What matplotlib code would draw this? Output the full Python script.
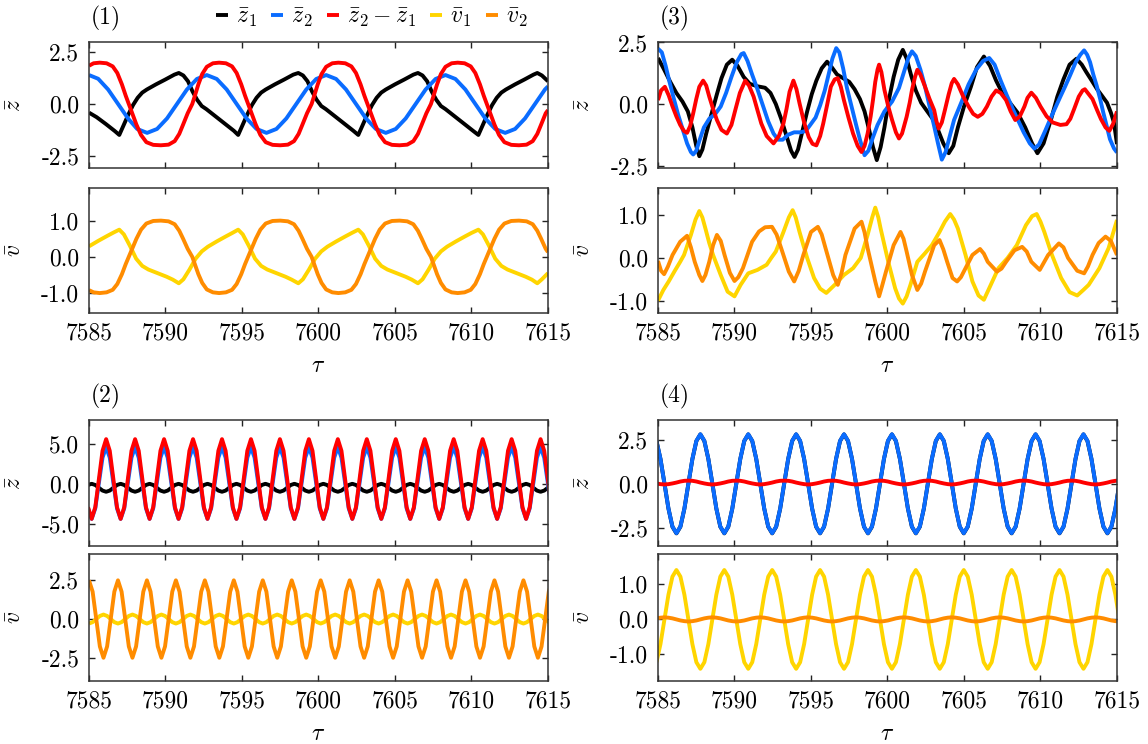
import numpy as np
import matplotlib
matplotlib.use("Agg")
import matplotlib.pyplot as plt
from matplotlib.ticker import FormatStrFormatter

plt.rcParams["font.family"] = "serif"
plt.rcParams["font.serif"] = ["cmr10"]
plt.rcParams["mathtext.fontset"] = "cm"
plt.rcParams["axes.unicode_minus"] = False
plt.rcParams["font.size"] = 17

# colours of the five traces
c_z1, c_z2, c_dz = "#000000", "#0a6cff", "#ff0000"
c_v1, c_v2 = "#ffd500", "#ff8c00"

# ---------------- panel (1) ----------------
p1_z1 = [(7585.0, -0.42), (7585.5, -0.64), (7586.1, -0.97), (7586.7, -1.32), (7586.98, -1.5),
         (7587.28, -1.0), (7587.58, -0.5), (7587.88, -0.05), (7588.18, 0.3), (7588.48, 0.55),
         (7588.78, 0.7), (7589.38, 0.95), (7589.98, 1.18), (7590.58, 1.42), (7590.87, 1.5),
         (7591.17, 1.38), (7591.47, 1.1), (7591.77, 0.6), (7592.07, 0.2), (7592.37, -0.1),
         (7592.67, -0.25), (7593.27, -0.6), (7593.87, -0.95), (7594.47, -1.3), (7594.75, -1.5),
         (7595.05, -1.0), (7595.35, -0.5), (7595.65, -0.05), (7595.95, 0.3), (7596.25, 0.55),
         (7596.55, 0.7), (7597.15, 0.95), (7597.75, 1.18), (7598.35, 1.42), (7598.68, 1.5),
         (7598.98, 1.38), (7599.28, 1.1), (7599.58, 0.6), (7599.88, 0.2), (7600.18, -0.1),
         (7600.48, -0.25), (7601.08, -0.6), (7601.68, -0.95), (7602.28, -1.3), (7602.6, -1.5),
         (7602.9, -1.0), (7603.2, -0.5), (7603.5, -0.05), (7603.8, 0.3), (7604.1, 0.55),
         (7604.4, 0.7), (7605.0, 0.95), (7605.6, 1.18), (7606.2, 1.42), (7606.5, 1.5),
         (7606.8, 1.38), (7607.1, 1.1), (7607.4, 0.6), (7607.7, 0.2), (7608.0, -0.1),
         (7608.3, -0.25), (7608.9, -0.6), (7609.5, -0.95), (7610.1, -1.3), (7610.45, -1.5),
         (7610.75, -1.0), (7611.05, -0.5), (7611.35, -0.05), (7611.65, 0.3), (7611.95, 0.55),
         (7612.25, 0.7), (7612.85, 0.95), (7613.45, 1.18), (7614.05, 1.42), (7614.3, 1.5),
         (7614.6, 1.38), (7615.0, 1.1)]

p1_z2 = [(7585.0, 1.4), (7585.6, 1.22), (7586.25, 0.7), (7586.9, 0.0), (7587.55, -0.7),
         (7588.15, -1.21), (7588.8, -1.4), (7589.45, -1.21), (7590.1, -0.7), (7590.75, 0.0),
         (7591.4, 0.7), (7592.05, 1.21), (7592.7, 1.4), (7593.35, 1.21), (7594.0, 0.7),
         (7594.65, 0.0), (7595.3, -0.7), (7595.95, -1.21), (7596.6, -1.4), (7597.25, -1.21),
         (7597.9, -0.7), (7598.55, 0.0), (7599.2, 0.7), (7599.85, 1.21), (7600.5, 1.4),
         (7601.15, 1.21), (7601.8, 0.7), (7602.45, 0.0), (7603.1, -0.7), (7603.75, -1.21),
         (7604.4, -1.4), (7605.05, -1.21), (7605.7, -0.7), (7606.35, 0.0), (7607.0, 0.7),
         (7607.65, 1.21), (7608.3, 1.4), (7608.95, 1.21), (7609.6, 0.7), (7610.25, 0.0),
         (7610.9, -0.7), (7611.55, -1.21), (7612.2, -1.4), (7612.85, -1.21), (7613.5, -0.7),
         (7614.15, 0.0), (7614.8, 0.7), (7615.0, 0.85)]

p1_dz = [(7585.0, 1.85), (7585.3, 1.97), (7585.7, 2.0), (7586.15, 1.97), (7586.55, 1.82),
         (7586.85, 1.5), (7587.15, 0.95), (7587.4, 0.4), (7587.6, 0.0), (7587.8, -0.4),
         (7588.1, -1.0), (7588.4, -1.5), (7588.75, -1.85), (7589.2, -1.98), (7589.7, -2.0),
         (7590.2, -1.97), (7590.6, -1.8), (7590.9, -1.45), (7591.15, -1.0), (7591.45, -0.45),
         (7591.75, 0.0), (7591.9, 0.35), (7592.15, 0.95), (7592.4, 1.45), (7592.7, 1.8),
         (7593.1, 1.97), (7593.5, 2.0), (7593.95, 1.97), (7594.35, 1.82), (7594.65, 1.5),
         (7594.95, 0.95), (7595.2, 0.4), (7595.4, 0.0), (7595.6, -0.4), (7595.9, -1.0),
         (7596.2, -1.5), (7596.55, -1.85), (7597.0, -1.98), (7597.5, -2.0), (7598.0, -1.97),
         (7598.4, -1.8), (7598.7, -1.45), (7598.95, -1.0), (7599.25, -0.45), (7599.55, 0.0),
         (7599.7, 0.35), (7599.95, 0.95), (7600.2, 1.45), (7600.5, 1.8), (7600.9, 1.97),
         (7601.3, 2.0), (7601.75, 1.97), (7602.15, 1.82), (7602.45, 1.5), (7602.75, 0.95),
         (7603.0, 0.4), (7603.2, 0.0), (7603.4, -0.4), (7603.7, -1.0), (7604.0, -1.5),
         (7604.35, -1.85), (7604.8, -1.98), (7605.3, -2.0), (7605.8, -1.97), (7606.2, -1.8),
         (7606.5, -1.45), (7606.75, -1.0), (7607.05, -0.45), (7607.35, 0.0), (7607.5, 0.35),
         (7607.75, 0.95), (7608.0, 1.45), (7608.3, 1.8), (7608.7, 1.97), (7609.1, 2.0),
         (7609.55, 1.97), (7609.95, 1.82), (7610.25, 1.5), (7610.55, 0.95), (7610.8, 0.4),
         (7611.0, 0.0), (7611.2, -0.4), (7611.5, -1.0), (7611.8, -1.5), (7612.15, -1.85),
         (7612.6, -1.98), (7613.1, -2.0), (7613.6, -1.97), (7614.0, -1.8), (7614.3, -1.45),
         (7614.55, -1.0), (7614.85, -0.45), (7615.0, -0.3)]

p1_v1 = [(7585.0, 0.29), (7585.6, 0.44), (7586.2, 0.58), (7586.6, 0.67), (7586.98, 0.75),
         (7587.28, 0.62), (7587.68, 0.3), (7588.08, -0.05), (7588.48, -0.25), (7588.88, -0.35),
         (7589.48, -0.45), (7590.08, -0.55), (7590.48, -0.63), (7590.87, -0.73),
         (7591.17, -0.62), (7591.57, -0.35), (7591.97, -0.05), (7592.37, 0.15), (7592.77, 0.28),
         (7593.37, 0.43), (7593.97, 0.57), (7594.37, 0.66), (7594.75, 0.75),
         (7595.05, 0.62), (7595.45, 0.3), (7595.85, -0.05), (7596.25, -0.25), (7596.65, -0.35),
         (7597.25, -0.45), (7597.85, -0.55), (7598.25, -0.63), (7598.68, -0.73),
         (7598.98, -0.62), (7599.38, -0.35), (7599.78, -0.05), (7600.18, 0.15), (7600.58, 0.28),
         (7601.18, 0.43), (7601.78, 0.57), (7602.18, 0.66), (7602.6, 0.75),
         (7602.9, 0.62), (7603.3, 0.3), (7603.7, -0.05), (7604.1, -0.25), (7604.5, -0.35),
         (7605.1, -0.45), (7605.7, -0.55), (7606.1, -0.63), (7606.5, -0.73),
         (7606.8, -0.62), (7607.2, -0.35), (7607.6, -0.05), (7608.0, 0.15), (7608.4, 0.28),
         (7609.0, 0.43), (7609.6, 0.57), (7610.0, 0.66), (7610.45, 0.75),
         (7610.75, 0.62), (7611.15, 0.3), (7611.55, -0.05), (7611.95, -0.25), (7612.35, -0.35),
         (7612.95, -0.45), (7613.55, -0.55), (7613.95, -0.63), (7614.3, -0.73),
         (7614.6, -0.62), (7615.0, -0.45)]

p1_v2 = [(7585.0, -0.92), (7585.3, -0.98), (7585.7, -1.0), (7586.15, -0.98), (7586.55, -0.91),
         (7586.85, -0.75), (7587.15, -0.48), (7587.4, -0.2), (7587.6, 0.0), (7587.8, 0.2),
         (7588.1, 0.5), (7588.4, 0.75), (7588.75, 0.92), (7589.2, 0.99), (7589.7, 1.0),
         (7590.2, 0.98), (7590.6, 0.9), (7590.9, 0.72), (7591.15, 0.5), (7591.45, 0.22),
         (7591.75, 0.0), (7591.9, -0.18), (7592.15, -0.48), (7592.4, -0.72), (7592.7, -0.9),
         (7593.1, -0.98), (7593.5, -1.0), (7593.95, -0.98), (7594.35, -0.91), (7594.65, -0.75),
         (7594.95, -0.48), (7595.2, -0.2), (7595.4, 0.0), (7595.6, 0.2), (7595.9, 0.5),
         (7596.2, 0.75), (7596.55, 0.92), (7597.0, 0.99), (7597.5, 1.0), (7598.0, 0.98),
         (7598.4, 0.9), (7598.7, 0.72), (7598.95, 0.5), (7599.25, 0.22), (7599.55, 0.0),
         (7599.7, -0.18), (7599.95, -0.48), (7600.2, -0.72), (7600.5, -0.9), (7600.9, -0.98),
         (7601.3, -1.0), (7601.75, -0.98), (7602.15, -0.91), (7602.45, -0.75), (7602.75, -0.48),
         (7603.0, -0.2), (7603.2, 0.0), (7603.4, 0.2), (7603.7, 0.5), (7604.0, 0.75),
         (7604.35, 0.92), (7604.8, 0.99), (7605.3, 1.0), (7605.8, 0.98), (7606.2, 0.9),
         (7606.5, 0.72), (7606.75, 0.5), (7607.05, 0.22), (7607.35, 0.0), (7607.5, -0.18),
         (7607.75, -0.48), (7608.0, -0.72), (7608.3, -0.9), (7608.7, -0.98), (7609.1, -1.0),
         (7609.55, -0.98), (7609.95, -0.91), (7610.25, -0.75), (7610.55, -0.48), (7610.8, -0.2),
         (7611.0, 0.0), (7611.2, 0.2), (7611.5, 0.5), (7611.8, 0.75), (7612.15, 0.92),
         (7612.6, 0.99), (7613.1, 1.0), (7613.6, 0.98), (7614.0, 0.9), (7614.3, 0.72),
         (7614.55, 0.5), (7614.85, 0.22), (7615.0, 0.13)]

# ---------------- panel (3) ----------------
p3_z1 = [(7585.0, 1.87), (7585.4, 1.4), (7585.8, 0.9), (7586.2, 0.45), (7586.6, 0.1),
         (7586.95, -0.3), (7587.25, -0.95), (7587.5, -1.7), (7587.7, -2.12), (7587.9, -1.85),
         (7588.15, -1.2), (7588.5, -0.4), (7588.85, 0.4), (7589.15, 1.05), (7589.5, 1.6),
         (7589.85, 1.8), (7590.2, 1.55), (7590.6, 1.1), (7591.0, 0.82), (7591.5, 0.72),
         (7592.0, 0.66), (7592.35, 0.45), (7592.7, 0.0), (7593.05, -0.6), (7593.4, -1.3),
         (7593.7, -1.9), (7593.92, -2.15), (7594.15, -1.85), (7594.4, -1.2), (7594.75, -0.3),
         (7595.05, 0.4), (7595.35, 0.95), (7595.7, 1.45), (7596.05, 1.72), (7596.35, 1.5),
         (7596.7, 1.2), (7597.1, 1.05), (7597.5, 0.9), (7597.85, 0.6), (7598.2, 0.2),
         (7598.5, -0.3), (7598.8, -1.05), (7599.05, -1.75), (7599.3, -2.28), (7599.55, -1.75),
         (7599.8, -0.95), (7600.1, 0.2), (7600.4, 1.1), (7600.7, 1.8), (7601.0, 2.2),
         (7601.25, 1.85), (7601.55, 1.15), (7601.85, 0.55), (7602.2, 0.05), (7602.6, -0.3),
         (7602.95, -0.6), (7603.3, -1.05), (7603.65, -1.6), (7604.0, -2.0), (7604.3, -1.7),
         (7604.6, -0.95), (7605.0, -0.1), (7605.45, 0.7), (7605.85, 1.5), (7606.3, 1.93),
         (7606.7, 1.55), (7607.1, 0.95), (7607.5, 0.45), (7608.0, 0.05), (7608.5, -0.35),
         (7609.0, -0.95), (7609.45, -1.6), (7609.8, -2.0), (7610.2, -1.6), (7610.7, -0.6),
         (7611.1, 0.3), (7611.5, 1.0), (7611.9, 1.6), (7612.35, 1.84), (7612.7, 1.6),
         (7613.0, 1.29), (7613.35, 0.95), (7613.7, 0.6), (7614.0, 0.35), (7614.35, 0.05),
         (7614.6, -0.35), (7614.8, -0.75), (7615.0, -1.63)]

p3_z2 = [(7585.0, 2.25), (7585.25, 2.1), (7585.5, 1.55), (7585.75, 0.9), (7586.0, 0.3),
         (7586.3, -0.4), (7586.6, -1.0), (7586.9, -1.6), (7587.15, -1.95), (7587.3, -2.05),
         (7587.5, -1.9), (7587.7, -1.5), (7588.0, -0.95), (7588.35, -0.6), (7588.75, -0.4),
         (7589.1, -0.1), (7589.45, 0.45), (7589.8, 1.1), (7590.15, 1.7), (7590.45, 2.03),
         (7590.6, 2.07), (7590.85, 1.75), (7591.15, 1.2), (7591.5, 0.6), (7591.85, -0.05),
         (7592.2, -0.7), (7592.55, -1.2), (7592.85, -1.45), (7593.15, -1.45), (7593.5, -1.25),
         (7593.9, -1.15), (7594.3, -1.15), (7594.65, -1.1), (7594.95, -0.85), (7595.3, -0.55),
         (7595.6, -0.05), (7595.9, 0.55), (7596.15, 1.2), (7596.4, 1.85), (7596.65, 2.27),
         (7596.85, 2.1), (7597.1, 1.45), (7597.35, 0.65), (7597.65, -0.1), (7597.95, -0.85),
         (7598.2, -1.45), (7598.5, -2.08), (7598.75, -1.9), (7599.05, -1.35), (7599.35, -0.85),
         (7599.8, -0.3), (7600.3, 0.1), (7600.75, 0.65), (7601.05, 1.25), (7601.35, 1.85),
         (7601.6, 2.14), (7601.85, 1.95), (7602.15, 1.4), (7602.45, 0.72), (7602.75, -0.1),
         (7603.05, -0.9), (7603.3, -1.6), (7603.55, -2.26), (7603.8, -1.95), (7604.05, -1.35),
         (7604.35, -0.65), (7604.85, 0.1), (7605.3, 0.8), (7605.8, 1.4), (7606.25, 1.75),
         (7606.65, 1.87), (7607.0, 1.6), (7607.4, 0.95), (7607.8, 0.35), (7608.3, -0.35),
         (7608.9, -1.15), (7609.3, -1.6), (7609.6, -1.81), (7609.9, -1.65), (7610.3, -1.1),
         (7610.75, -0.45), (7611.3, 0.3), (7611.6, 0.7), (7611.93, 1.16), (7612.3, 1.7),
         (7612.6, 2.0), (7612.85, 2.18), (7613.05, 2.0), (7613.24, 1.7), (7613.45, 1.2),
         (7613.67, 0.75), (7613.9, 0.2), (7614.1, -0.34), (7614.35, -0.95), (7614.54, -1.43),
         (7614.8, -1.8), (7615.0, -1.97)]

p3_dz = [(7585.0, 0.16), (7585.2, 0.55), (7585.45, 0.7), (7585.7, 0.35), (7585.95, -0.1),
         (7586.2, -0.5), (7586.45, -0.85), (7586.7, -1.1), (7586.9, -1.17), (7587.1, -0.9),
         (7587.3, -0.38), (7587.5, 0.2), (7587.7, 0.7), (7587.95, 0.95), (7588.15, 0.75),
         (7588.35, 0.3), (7588.6, -0.2), (7588.85, -0.65), (7589.15, -1.05), (7589.5, -1.2),
         (7589.8, -0.85), (7590.05, -0.25), (7590.35, 0.45), (7590.7, 0.95), (7590.95, 0.75),
         (7591.25, 0.3), (7591.5, -0.25), (7591.75, -0.79), (7592.1, -1.3), (7592.55, -1.6),
         (7592.9, -1.3), (7593.2, -0.79), (7593.4, -0.2), (7593.6, 0.5), (7593.85, 0.95),
         (7594.05, 0.6), (7594.25, 0.03), (7594.55, -0.75), (7594.85, -1.34), (7595.1, -1.62),
         (7595.35, -1.68), (7595.6, -1.3), (7595.8, -0.79), (7596.05, -0.05), (7596.3, 0.71),
         (7596.55, 1.0), (7596.75, 1.05), (7596.95, 0.7), (7597.15, 0.16), (7597.45, -0.55),
         (7597.75, -1.2), (7598.05, -1.7), (7598.3, -1.95), (7598.5, -1.7), (7598.7, -1.2),
         (7598.9, -0.5), (7599.05, 0.16), (7599.2, 0.9), (7599.35, 1.4), (7599.45, 1.6),
         (7599.6, 1.3), (7599.8, 0.57), (7600.05, -0.1), (7600.3, -0.65), (7600.55, -1.15),
         (7600.75, -1.4), (7600.95, -1.2), (7601.25, -0.52), (7601.45, 0.05), (7601.6, 0.57),
         (7601.8, 1.1), (7601.95, 1.39), (7602.15, 1.2), (7602.45, 0.71), (7602.75, 0.2),
         (7603.05, -0.25), (7603.2, -0.7), (7603.35, -1.0), (7603.55, -0.75), (7603.75, -0.25),
         (7604.0, 0.4), (7604.2, 0.85), (7604.35, 1.02), (7604.6, 0.8), (7604.95, 0.3),
         (7605.3, -0.1), (7605.6, -0.4), (7605.9, -0.52), (7606.2, -0.4), (7606.5, -0.1),
         (7606.8, 0.3), (7607.1, 0.55), (7607.4, 0.45), (7607.75, 0.16), (7608.05, -0.3),
         (7608.35, -0.65), (7608.65, -0.5), (7608.95, -0.1), (7609.15, 0.25), (7609.4, 0.46),
         (7609.7, 0.25), (7610.0, -0.1), (7610.4, -0.5), (7610.8, -0.75), (7611.3, -0.85),
         (7611.7, -0.82), (7611.95, -0.6), (7612.2, -0.2), (7612.5, 0.3), (7612.75, 0.55),
         (7612.9, 0.6), (7613.15, 0.4), (7613.4, 0.2), (7613.7, -0.25), (7613.95, -0.61),
         (7614.25, -0.95), (7614.5, -1.09), (7614.75, -0.8), (7615.0, -0.3)]

p3_v1 = [(7585.0, -1.0), (7585.35, -0.75), (7585.7, -0.55), (7586.1, -0.3), (7586.45, -0.09),
         (7586.7, 0.07), (7587.15, 0.54), (7587.45, 0.9), (7587.7, 1.1), (7587.9, 0.95),
         (7588.1, 0.69), (7588.35, 0.35), (7588.6, 0.07), (7589.1, -0.4), (7589.55, -0.79),
         (7590.0, -0.9), (7590.4, -0.63), (7590.9, -0.36), (7591.5, -0.28), (7592.1, -0.16),
         (7592.4, 0.0), (7592.7, 0.15), (7593.2, 0.61), (7593.55, 0.95), (7593.8, 1.12),
         (7594.0, 0.95), (7594.25, 0.61), (7594.5, 0.3), (7594.75, 0.0), (7595.2, -0.47),
         (7595.6, -0.72), (7596.0, -0.82), (7596.55, -0.63), (7597.15, -0.4), (7597.75, -0.24),
         (7598.25, 0.0), (7598.7, 0.54), (7599.0, 0.95), (7599.2, 1.18), (7599.4, 0.95),
         (7599.55, 0.69), (7599.8, 0.3), (7600.05, -0.09), (7600.5, -0.71), (7600.75, -0.95),
         (7601.0, -1.07), (7601.25, -0.9), (7601.5, -0.63), (7601.95, -0.09), (7602.45, 0.11),
         (7602.9, 0.3), (7603.4, 0.61), (7603.75, 0.85), (7604.1, 1.03), (7604.35, 0.9),
         (7604.6, 0.69), (7605.1, 0.07), (7605.55, -0.55), (7605.95, -0.88), (7606.3, -0.98),
         (7606.75, -0.63), (7607.25, -0.24), (7607.85, 0.0), (7608.45, 0.3), (7609.05, 0.77),
         (7609.45, 0.98), (7609.75, 1.03), (7610.0, 0.85), (7610.25, 0.61), (7610.75, 0.07),
         (7611.35, -0.47), (7611.9, -0.8), (7612.4, -0.88), (7612.8, -0.75), (7613.15, -0.63),
         (7613.85, -0.24), (7614.45, 0.23), (7614.8, 0.65), (7615.0, 0.89)]

p3_v2 = [(7585.0, -0.07), (7585.2, -0.3), (7585.4, -0.38), (7585.65, -0.2), (7585.95, 0.07),
         (7586.45, 0.38), (7586.9, 0.52), (7587.15, 0.25), (7587.4, -0.09), (7587.7, -0.4),
         (7587.9, -0.54), (7588.1, -0.4), (7588.35, -0.09), (7588.6, 0.3), (7588.85, 0.54),
         (7589.1, 0.4), (7589.35, 0.07), (7589.7, -0.35), (7590.0, -0.54), (7590.25, -0.45),
         (7590.55, -0.24), (7591.15, 0.38), (7591.6, 0.62), (7592.0, 0.72), (7592.45, 0.73),
         (7592.75, 0.55), (7593.05, 0.23), (7593.55, -0.32), (7593.9, -0.55), (7594.2, -0.3),
         (7594.5, 0.07), (7595.0, 0.61), (7595.45, 0.73), (7595.7, 0.55), (7595.95, 0.23),
         (7596.45, -0.4), (7596.75, -0.63), (7597.0, -0.35), (7597.25, 0.07), (7597.85, 0.69),
         (7598.3, 0.85), (7598.5, 0.6), (7598.7, 0.23), (7599.2, -0.55), (7599.45, -0.9),
         (7599.65, -0.65), (7599.9, -0.32), (7600.4, 0.3), (7600.85, 0.61), (7601.05, 0.45),
         (7601.25, 0.15), (7601.6, -0.4), (7601.95, -0.75), (7602.2, -0.6), (7602.45, -0.32),
         (7603.05, 0.3), (7603.4, 0.42), (7603.65, 0.2), (7603.9, -0.09), (7604.25, -0.47),
         (7604.55, -0.55), (7604.8, -0.45), (7605.1, -0.24), (7605.55, 0.07), (7606.05, 0.21),
         (7606.3, 0.1), (7606.55, -0.09), (7607.15, -0.32), (7607.45, -0.25), (7607.75, -0.09),
         (7608.3, 0.18), (7608.8, 0.26), (7609.1, 0.15), (7609.4, -0.09), (7609.95, -0.28),
         (7610.5, 0.07), (7611.2, 0.34), (7611.5, 0.25), (7611.8, 0.0), (7612.4, -0.3),
         (7612.85, -0.36), (7613.1, -0.2), (7613.4, 0.07), (7613.8, 0.35), (7614.25, 0.5),
         (7614.6, 0.4), (7615.0, 0.07)]

# ---------------- panel (2) ----------------
# samples every eighth of an oscillation (period about 1.893)
p2_top_start, p2_top_step = 7584.937, 0.236625
p2_z1 = [
    -0.15, 0.0, -0.15, -0.5, -0.85, -1.0, -0.85, -0.5,
    -0.15, 0.0, -0.15, -0.5, -0.85, -1.0, -0.85, -0.5,
    -0.15, 0.0, -0.15, -0.5, -0.85, -1.0, -0.85, -0.5,
    -0.15, 0.0, -0.15, -0.5, -0.85, -1.0, -0.85, -0.5,
    -0.15, 0.0, -0.15, -0.5, -0.85, -1.0, -0.85, -0.5,
    -0.15, 0.0, -0.15, -0.5, -0.85, -1.0, -0.85, -0.5,
    -0.15, 0.0, -0.15, -0.5, -0.85, -1.0, -0.85, -0.5,
    -0.15, 0.0, -0.15, -0.5, -0.85, -1.0, -0.85, -0.5,
    -0.15, 0.0, -0.15, -0.5, -0.85, -1.0, -0.85, -0.5,
    -0.15, 0.0, -0.15, -0.5, -0.85, -1.0, -0.85, -0.5,
    -0.15, 0.0, -0.15, -0.5, -0.85, -1.0, -0.85, -0.5,
    -0.15, 0.0, -0.15, -0.5, -0.85, -1.0, -0.85, -0.5,
    -0.15, 0.0, -0.15, -0.5, -0.85, -1.0, -0.85, -0.5,
    -0.15, 0.0, -0.15, -0.5, -0.85, -1.0, -0.85, -0.5,
    -0.15, 0.0, -0.15, -0.5, -0.85, -1.0, -0.85, -0.5,
    -0.15, 0.0, -0.15, -0.5, -0.85, -1.0, -0.85, -0.5,
    -0.15, 0.0, -0.15,
]
p2_z2 = [
    -3.08, -4.4, -3.08, 0.1, 3.28, 4.6, 3.28, 0.1,
    -3.08, -4.4, -3.08, 0.1, 3.28, 4.6, 3.28, 0.1,
    -3.08, -4.4, -3.08, 0.1, 3.28, 4.6, 3.28, 0.1,
    -3.08, -4.4, -3.08, 0.1, 3.28, 4.6, 3.28, 0.1,
    -3.08, -4.4, -3.08, 0.1, 3.28, 4.6, 3.28, 0.1,
    -3.08, -4.4, -3.08, 0.1, 3.28, 4.6, 3.28, 0.1,
    -3.08, -4.4, -3.08, 0.1, 3.28, 4.6, 3.28, 0.1,
    -3.08, -4.4, -3.08, 0.1, 3.28, 4.6, 3.28, 0.1,
    -3.08, -4.4, -3.08, 0.1, 3.28, 4.6, 3.28, 0.1,
    -3.08, -4.4, -3.08, 0.1, 3.28, 4.6, 3.28, 0.1,
    -3.08, -4.4, -3.08, 0.1, 3.28, 4.6, 3.28, 0.1,
    -3.08, -4.4, -3.08, 0.1, 3.28, 4.6, 3.28, 0.1,
    -3.08, -4.4, -3.08, 0.1, 3.28, 4.6, 3.28, 0.1,
    -3.08, -4.4, -3.08, 0.1, 3.28, 4.6, 3.28, 0.1,
    -3.08, -4.4, -3.08, 0.1, 3.28, 4.6, 3.28, 0.1,
    -3.08, -4.4, -3.08, 0.1, 3.28, 4.6, 3.28, 0.1,
    -3.08, -4.4, -3.08,
]
p2_dz = [
    -2.94, -4.4, -2.94, 0.6, 4.14, 5.6, 4.14, 0.6,
    -2.94, -4.4, -2.94, 0.6, 4.14, 5.6, 4.14, 0.6,
    -2.94, -4.4, -2.94, 0.6, 4.14, 5.6, 4.14, 0.6,
    -2.94, -4.4, -2.94, 0.6, 4.14, 5.6, 4.14, 0.6,
    -2.94, -4.4, -2.94, 0.6, 4.14, 5.6, 4.14, 0.6,
    -2.94, -4.4, -2.94, 0.6, 4.14, 5.6, 4.14, 0.6,
    -2.94, -4.4, -2.94, 0.6, 4.14, 5.6, 4.14, 0.6,
    -2.94, -4.4, -2.94, 0.6, 4.14, 5.6, 4.14, 0.6,
    -2.94, -4.4, -2.94, 0.6, 4.14, 5.6, 4.14, 0.6,
    -2.94, -4.4, -2.94, 0.6, 4.14, 5.6, 4.14, 0.6,
    -2.94, -4.4, -2.94, 0.6, 4.14, 5.6, 4.14, 0.6,
    -2.94, -4.4, -2.94, 0.6, 4.14, 5.6, 4.14, 0.6,
    -2.94, -4.4, -2.94, 0.6, 4.14, 5.6, 4.14, 0.6,
    -2.94, -4.4, -2.94, 0.6, 4.14, 5.6, 4.14, 0.6,
    -2.94, -4.4, -2.94, 0.6, 4.14, 5.6, 4.14, 0.6,
    -2.94, -4.4, -2.94, 0.6, 4.14, 5.6, 4.14, 0.6,
    -2.94, -4.4, -2.94,
]

p2_bot_start, p2_bot_step = 7585.0, 0.236625
p2_v1 = [
    -0.29, -0.2, 0.0, 0.2, 0.29, 0.2, 0.0, -0.2,
    -0.29, -0.2, 0.0, 0.2, 0.29, 0.2, 0.0, -0.2,
    -0.29, -0.2, 0.0, 0.2, 0.29, 0.2, 0.0, -0.2,
    -0.29, -0.2, 0.0, 0.2, 0.29, 0.2, 0.0, -0.2,
    -0.29, -0.2, 0.0, 0.2, 0.29, 0.2, 0.0, -0.2,
    -0.29, -0.2, 0.0, 0.2, 0.29, 0.2, 0.0, -0.2,
    -0.29, -0.2, 0.0, 0.2, 0.29, 0.2, 0.0, -0.2,
    -0.29, -0.2, 0.0, 0.2, 0.29, 0.2, 0.0, -0.2,
    -0.29, -0.2, 0.0, 0.2, 0.29, 0.2, 0.0, -0.2,
    -0.29, -0.2, 0.0, 0.2, 0.29, 0.2, 0.0, -0.2,
    -0.29, -0.2, 0.0, 0.2, 0.29, 0.2, 0.0, -0.2,
    -0.29, -0.2, 0.0, 0.2, 0.29, 0.2, 0.0, -0.2,
    -0.29, -0.2, 0.0, 0.2, 0.29, 0.2, 0.0, -0.2,
    -0.29, -0.2, 0.0, 0.2, 0.29, 0.2, 0.0, -0.2,
    -0.29, -0.2, 0.0, 0.2, 0.29, 0.2, 0.0, -0.2,
    -0.29, -0.2, 0.0, 0.2, 0.29, 0.2, 0.0, -0.2,
    -0.29, -0.2,
]
p2_v2 = [
    2.5, 1.77, 0.0, -1.77, -2.5, -1.77, 0.0, 1.77,
    2.5, 1.77, 0.0, -1.77, -2.5, -1.77, 0.0, 1.77,
    2.5, 1.77, 0.0, -1.77, -2.5, -1.77, 0.0, 1.77,
    2.5, 1.77, 0.0, -1.77, -2.5, -1.77, 0.0, 1.77,
    2.5, 1.77, 0.0, -1.77, -2.5, -1.77, 0.0, 1.77,
    2.5, 1.77, 0.0, -1.77, -2.5, -1.77, 0.0, 1.77,
    2.5, 1.77, 0.0, -1.77, -2.5, -1.77, 0.0, 1.77,
    2.5, 1.77, 0.0, -1.77, -2.5, -1.77, 0.0, 1.77,
    2.5, 1.77, 0.0, -1.77, -2.5, -1.77, 0.0, 1.77,
    2.5, 1.77, 0.0, -1.77, -2.5, -1.77, 0.0, 1.77,
    2.5, 1.77, 0.0, -1.77, -2.5, -1.77, 0.0, 1.77,
    2.5, 1.77, 0.0, -1.77, -2.5, -1.77, 0.0, 1.77,
    2.5, 1.77, 0.0, -1.77, -2.5, -1.77, 0.0, 1.77,
    2.5, 1.77, 0.0, -1.77, -2.5, -1.77, 0.0, 1.77,
    2.5, 1.77, 0.0, -1.77, -2.5, -1.77, 0.0, 1.77,
    2.5, 1.77, 0.0, -1.77, -2.5, -1.77, 0.0, 1.77,
    2.5, 1.77,
]

# ---------------- panel (4) ----------------
# samples every twelfth of an oscillation, first one at tau = 7584.90
p4_start, p4_step = 7584.90, 0.26083
p4_z1 = [
    2.46, 1.44, 0.04, -1.39, -2.43, -2.81, -2.43, -1.40, 0.02, 1.43, 2.46, 2.84,
    2.46, 1.44, 0.04, -1.39, -2.43, -2.81, -2.43, -1.40, 0.02, 1.43, 2.46, 2.84,
    2.46, 1.44, 0.04, -1.39, -2.43, -2.81, -2.43, -1.40, 0.02, 1.43, 2.46, 2.84,
    2.46, 1.44, 0.04, -1.39, -2.43, -2.81, -2.43, -1.40, 0.02, 1.43, 2.46, 2.84,
    2.46, 1.44, 0.04, -1.39, -2.43, -2.81, -2.43, -1.40, 0.02, 1.43, 2.46, 2.84,
    2.46, 1.44, 0.04, -1.39, -2.43, -2.81, -2.43, -1.40, 0.02, 1.43, 2.46, 2.84,
    2.46, 1.44, 0.04, -1.39, -2.43, -2.81, -2.43, -1.40, 0.02, 1.43, 2.46, 2.84,
    2.46, 1.44, 0.04, -1.39, -2.43, -2.81, -2.43, -1.40, 0.02, 1.43, 2.46, 2.84,
    2.46, 1.44, 0.04, -1.39, -2.43, -2.81, -2.43, -1.40, 0.02, 1.43, 2.46, 2.84,
    2.46, 1.44, 0.04, -1.39, -2.43, -2.81, -2.43, -1.40, 0.02,
]
p4_z2 = [
    2.47, 1.44, 0.03, -1.39, -2.42, -2.8, -2.42, -1.39, 0.03, 1.44, 2.47, 2.85,
    2.47, 1.44, 0.03, -1.39, -2.42, -2.8, -2.42, -1.39, 0.03, 1.44, 2.47, 2.85,
    2.47, 1.44, 0.03, -1.39, -2.42, -2.8, -2.42, -1.39, 0.03, 1.44, 2.47, 2.85,
    2.47, 1.44, 0.03, -1.39, -2.42, -2.8, -2.42, -1.39, 0.03, 1.44, 2.47, 2.85,
    2.47, 1.44, 0.03, -1.39, -2.42, -2.8, -2.42, -1.39, 0.03, 1.44, 2.47, 2.85,
    2.47, 1.44, 0.03, -1.39, -2.42, -2.8, -2.42, -1.39, 0.03, 1.44, 2.47, 2.85,
    2.47, 1.44, 0.03, -1.39, -2.42, -2.8, -2.42, -1.39, 0.03, 1.44, 2.47, 2.85,
    2.47, 1.44, 0.03, -1.39, -2.42, -2.8, -2.42, -1.39, 0.03, 1.44, 2.47, 2.85,
    2.47, 1.44, 0.03, -1.39, -2.42, -2.8, -2.42, -1.39, 0.03, 1.44, 2.47, 2.85,
    2.47, 1.44, 0.03, -1.39, -2.42, -2.8, -2.42, -1.39, 0.03,
]
p4_dz = [
    0.04, 0.0, -0.02, 0.0, 0.04, 0.09, 0.15, 0.19, 0.2, 0.19, 0.15, 0.09,
    0.04, 0.0, -0.02, 0.0, 0.04, 0.09, 0.15, 0.19, 0.2, 0.19, 0.15, 0.09,
    0.04, 0.0, -0.02, 0.0, 0.04, 0.09, 0.15, 0.19, 0.2, 0.19, 0.15, 0.09,
    0.04, 0.0, -0.02, 0.0, 0.04, 0.09, 0.15, 0.19, 0.2, 0.19, 0.15, 0.09,
    0.04, 0.0, -0.02, 0.0, 0.04, 0.09, 0.15, 0.19, 0.2, 0.19, 0.15, 0.09,
    0.04, 0.0, -0.02, 0.0, 0.04, 0.09, 0.15, 0.19, 0.2, 0.19, 0.15, 0.09,
    0.04, 0.0, -0.02, 0.0, 0.04, 0.09, 0.15, 0.19, 0.2, 0.19, 0.15, 0.09,
    0.04, 0.0, -0.02, 0.0, 0.04, 0.09, 0.15, 0.19, 0.2, 0.19, 0.15, 0.09,
    0.04, 0.0, -0.02, 0.0, 0.04, 0.09, 0.15, 0.19, 0.2, 0.19, 0.15, 0.09,
    0.04, 0.0, -0.02, 0.0, 0.04, 0.09, 0.15, 0.19, 0.2,
]
p4_v1 = [
    -1.24, -0.72, -0.01, 0.7, 1.22, 1.41, 1.22, 0.7, -0.01, -0.72, -1.24, -1.43,
    -1.24, -0.72, -0.01, 0.7, 1.22, 1.41, 1.22, 0.7, -0.01, -0.72, -1.24, -1.43,
    -1.24, -0.72, -0.01, 0.7, 1.22, 1.41, 1.22, 0.7, -0.01, -0.72, -1.24, -1.43,
    -1.24, -0.72, -0.01, 0.7, 1.22, 1.41, 1.22, 0.7, -0.01, -0.72, -1.24, -1.43,
    -1.24, -0.72, -0.01, 0.7, 1.22, 1.41, 1.22, 0.7, -0.01, -0.72, -1.24, -1.43,
    -1.24, -0.72, -0.01, 0.7, 1.22, 1.41, 1.22, 0.7, -0.01, -0.72, -1.24, -1.43,
    -1.24, -0.72, -0.01, 0.7, 1.22, 1.41, 1.22, 0.7, -0.01, -0.72, -1.24, -1.43,
    -1.24, -0.72, -0.01, 0.7, 1.22, 1.41, 1.22, 0.7, -0.01, -0.72, -1.24, -1.43,
    -1.24, -0.72, -0.01, 0.7, 1.22, 1.41, 1.22, 0.7, -0.01, -0.72, -1.24, -1.43,
    -1.24, -0.72, -0.01, 0.7, 1.22, 1.41, 1.22, 0.7, -0.01,
]
p4_v2 = [
    0.02, 0.04, 0.05, 0.04, 0.02, -0.01, -0.04, -0.06, -0.07, -0.06, -0.04, -0.01,
    0.02, 0.04, 0.05, 0.04, 0.02, -0.01, -0.04, -0.06, -0.07, -0.06, -0.04, -0.01,
    0.02, 0.04, 0.05, 0.04, 0.02, -0.01, -0.04, -0.06, -0.07, -0.06, -0.04, -0.01,
    0.02, 0.04, 0.05, 0.04, 0.02, -0.01, -0.04, -0.06, -0.07, -0.06, -0.04, -0.01,
    0.02, 0.04, 0.05, 0.04, 0.02, -0.01, -0.04, -0.06, -0.07, -0.06, -0.04, -0.01,
    0.02, 0.04, 0.05, 0.04, 0.02, -0.01, -0.04, -0.06, -0.07, -0.06, -0.04, -0.01,
    0.02, 0.04, 0.05, 0.04, 0.02, -0.01, -0.04, -0.06, -0.07, -0.06, -0.04, -0.01,
    0.02, 0.04, 0.05, 0.04, 0.02, -0.01, -0.04, -0.06, -0.07, -0.06, -0.04, -0.01,
    0.02, 0.04, 0.05, 0.04, 0.02, -0.01, -0.04, -0.06, -0.07, -0.06, -0.04, -0.01,
    0.02, 0.04, 0.05, 0.04, 0.02, -0.01, -0.04, -0.06, -0.07,
]

x_ticks = [7585, 7590, 7595, 7600, 7605, 7610, 7615]
lw = 2.8


def pairs(p):
    a = np.array(p)
    return a[:, 0], a[:, 1]


def grid(start, step, vals):
    return start + step * np.arange(len(vals))


def style(ax, ylim, yticks, bottom):
    ax.set_xlim(7585, 7615)
    ax.set_ylim(*ylim)
    ax.set_xticks(x_ticks)
    ax.set_yticks(yticks)
    ax.yaxis.set_major_formatter(FormatStrFormatter("%.1f"))
    ax.tick_params(direction="in", top=True, right=True, length=4, width=1,
                   pad=7, labelsize=17, colors="#222222")
    ax.tick_params(labelcolor="black")
    for s in ax.spines.values():
        s.set_linewidth(1.1)
        s.set_color("#333333")
    if not bottom:
        ax.tick_params(labelbottom=False)
    else:
        ax.set_xlabel(r"$\tau$", fontsize=17)
        ax.xaxis.set_label_coords(0.5, -0.42)
        ax.xaxis.label.set_va("center")


def draw_panel(left, top_y, bot_y, tag, top_series, bot_series, top_lim, bot_lim,
               top_ticks, bot_ticks):
    W, H = 1148.0, 744.0
    ax1 = fig.add_axes([left / W, 1 - top_y[1] / H, 459 / W, (top_y[1] - top_y[0]) / H])
    ax2 = fig.add_axes([left / W, 1 - bot_y[1] / H, 459 / W, (bot_y[1] - bot_y[0]) / H])
    lines = []
    for (x, y), c in top_series:
        lines += ax1.plot(x, y, color=c, lw=lw, solid_joinstyle="round", solid_capstyle="butt")
    for (x, y), c in bot_series:
        lines += ax2.plot(x, y, color=c, lw=lw, solid_joinstyle="round", solid_capstyle="butt")
    style(ax1, top_lim, top_ticks, False)
    style(ax2, bot_lim, bot_ticks, True)
    ax1.set_ylabel(r"$\bar{z}$", fontsize=17)
    ax2.set_ylabel(r"$\bar{v}$", fontsize=17)
    for a in (ax1, ax2):
        a.yaxis.set_label_coords(-0.161, 0.5)
        a.yaxis.label.set_va("center")
    ax1.text(0.004, 1.19, tag, transform=ax1.transAxes, ha="left", va="center", fontsize=17)
    return ax1, ax2, lines


fig = plt.figure(figsize=(11.48, 7.44), dpi=100)

row1_top, row1_bot = (42, 168), (188, 313)
row2_top, row2_bot = (420, 546), (554, 681)

a1, b1, l1 = draw_panel(
    89, row1_top, row1_bot, "(1)",
    [(pairs(p1_z1), c_z1), (pairs(p1_z2), c_z2), (pairs(p1_dz), c_dz)],
    [(pairs(p1_v1), c_v1), (pairs(p1_v2), c_v2)],
    (-3.1, 3.0), (-1.55, 1.9), [-2.5, 0, 2.5], [-1, 0, 1])

draw_panel(
    658, row1_top, row1_bot, "(3)",
    [(pairs(p3_z1), c_z1), (pairs(p3_z2), c_z2), (pairs(p3_dz), c_dz)],
    [(pairs(p3_v1), c_v1), (pairs(p3_v2), c_v2)],
    (-2.6, 2.52), (-1.29, 1.64), [-2.5, 0, 2.5], [-1, 0, 1])

t2a = lambda v: grid(p2_top_start, p2_top_step, v)
t2b = lambda v: grid(p2_bot_start, p2_bot_step, v)
draw_panel(
    89, row2_top, row2_bot, "(2)",
    [((t2a(p2_z1), p2_z1), c_z1), ((t2a(p2_z2), p2_z2), c_z2), ((t2a(p2_dz), p2_dz), c_dz)],
    [((t2b(p2_v1), p2_v1), c_v1), ((t2b(p2_v2), p2_v2), c_v2)],
    (-7.8, 8.0), (-4.0, 4.2), [-5, 0, 5], [-2.5, 0, 2.5])

t4 = lambda v: grid(p4_start, p4_step, v)
draw_panel(
    658, row2_top, row2_bot, "(4)",
    [((t4(p4_z1), p4_z1), c_z1), ((t4(p4_z2), p4_z2), c_z2), ((t4(p4_dz), p4_dz), c_dz)],
    [((t4(p4_v1), p4_v1), c_v1), ((t4(p4_v2), p4_v2), c_v2)],
    (-3.53, 3.66), (-1.78, 1.87), [-2.5, 0, 2.5], [-1, 0, 1])

labels = [r"$\bar{z}_1$", r"$\bar{z}_2$", r"$\bar{z}_2-\bar{z}_1$", r"$\bar{v}_1$", r"$\bar{v}_2$"]
a1.legend(l1, labels, loc="lower right", bbox_to_anchor=(0.985, 1.0), ncol=5, frameon=False,
          handlelength=0.5, handletextpad=0.35, columnspacing=0.6, borderaxespad=0.15,
          fontsize=17)

fig.savefig("out.png", dpi=100)
